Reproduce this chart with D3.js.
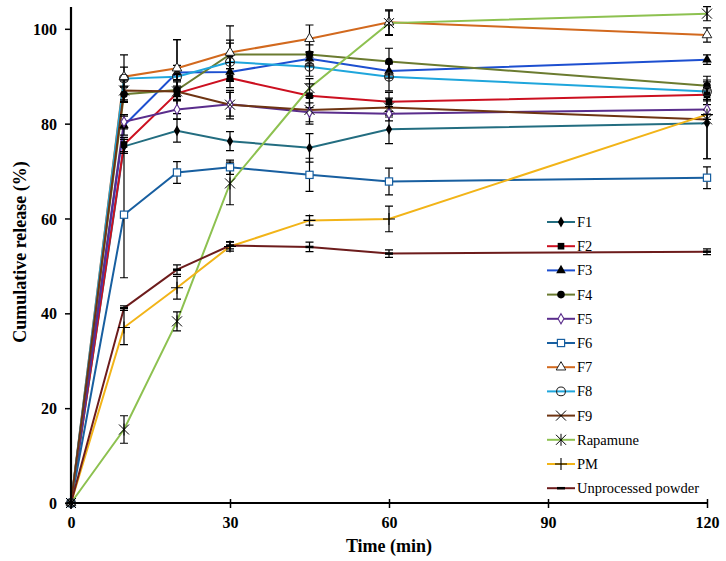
<!DOCTYPE html>
<html><head><meta charset="utf-8">
<script src="https://cdn.jsdelivr.net/npm/d3@7"></script>
<style>body{margin:0;background:#fff}svg{display:block}text{font-family:"Liberation Serif","Times New Roman",Times,"DejaVu Serif",serif}</style>
</head><body>
<svg id="c" width="726" height="561"></svg>
<script>
const times = [0, 10, 20, 30, 45, 60, 120];
const seriesNames = ["F1","F2","F3","F4","F5","F6","F7","F8","F9","Rapamune","PM","Unprocessed powder"];
const F1 = [0, 75.2, 78.5, 76.3, 74.9, 78.8, 80.1];
const F2 = [0, 75.6, 86.4, 89.6, 85.9, 84.6, 86.1];
const F3 = [0, 79.6, 90.8, 90.9, 93.7, 91.1, 93.5];
const F4 = [0, 86.2, 87.1, 94.6, 94.6, 93.1, 88.0];
const F5 = [0, 80.4, 83.0, 84.1, 82.4, 82.1, 83.0];
const F6 = [0, 60.8, 69.7, 70.8, 69.2, 67.8, 68.6];
const F7 = [0, 89.9, 91.7, 95.0, 97.9, 101.4, 98.7];
const F8 = [0, 89.5, 89.9, 93.0, 92.0, 89.9, 86.8];
const F9 = [0, 87.0, 86.8, 84.0, 82.9, 83.4, 80.9];
const Rapamune = [0, 15.5, 38.3, 67.4, 87.5, 101.2, 103.2];
const PM = [0, 37.0, 45.4, 54.1, 59.6, 59.9, 81.9];
const Unprocessed = [0, 41.1, 49.2, 54.3, 54.0, 52.6, 53.0];
const sdF1 = [0, 1.5, 2.4, 2.0, 3.0, 3.0, 7.5];
const sdF2 = [0, 1.5, 1.5, 2.0, 2.5, 2.0, 1.0];
const sdF3 = [0, 2.0, 1.5, 2.0, 1.5, 1.5, 1.0];
const sdF4 = [0, 1.5, 2.0, 3.0, 2.0, 2.8, 2.0];
const sdF5 = [0, 1.5, 2.0, 2.5, 2.0, 1.5, 1.0];
const sdF6 = [0, 13.3, 2.3, 1.5, 3.5, 2.8, 2.3];
const sdF7 = [0, 2.0, 6.0, 5.6, 2.9, 2.6, 1.5];
const sdF8 = [0, 5.0, 7.8, 4.0, 2.0, 3.0, 2.0];
const sdF9 = [0, 2.0, 2.0, 3.0, 3.0, 2.0, 8.3];
const sdRapamune = [0, 2.9, 2.0, 4.5, 2.0, 2.6, 1.5];
const sdPM = [0, 3.6, 2.4, 1.0, 1.0, 2.7, 1.0];
const sdUnprocessed = [0, 0.5, 1.0, 0.7, 1.0, 0.8, 0.6];
const xTicks = [0, 30, 60, 90, 120];
const yTicks = [0, 20, 40, 60, 80, 100];

const values = [F1,F2,F3,F4,F5,F6,F7,F8,F9,Rapamune,PM,Unprocessed];
const sds = [sdF1,sdF2,sdF3,sdF4,sdF5,sdF6,sdF7,sdF8,sdF9,sdRapamune,sdPM,sdUnprocessed];
const colors = ["#236d80","#cc1020","#1d4fd0","#6b7b30","#5a2d8c","#185fa0","#d2691e","#1fa6dc","#6e3412","#8dc150","#f2b418","#6d1c1c"];
const markers = ["diamond","square","triangle","circle","odiamond","osquare","otriangle","ocircle","x","asterisk","plus","dash"];

const svg = d3.select("#c");
const x = d3.scaleLinear().domain([0,120]).range([71,707]);
const y = d3.scaleLinear().domain([0,104.6]).range([503,7]);

function drawMarker(g, type, cx, cy, color) {
  const sym = (t, size) => d3.symbol().type(t).size(size)();
  if (type === "diamond") g.append("path").attr("d", sym(d3.symbolDiamond, 34)).attr("transform",`translate(${cx},${cy})`).attr("fill","#000");
  else if (type === "square") g.append("path").attr("d", sym(d3.symbolSquare, 44)).attr("transform",`translate(${cx},${cy})`).attr("fill","#000");
  else if (type === "triangle") g.append("path").attr("d", sym(d3.symbolTriangle, 40)).attr("transform",`translate(${cx},${cy})`).attr("fill","#000");
  else if (type === "circle") g.append("circle").attr("cx",cx).attr("cy",cy).attr("r",3.8).attr("fill","#000");
  else if (type === "odiamond") g.append("path").attr("d", sym(d3.symbolDiamond, 30)).attr("transform",`translate(${cx},${cy})`).attr("fill","#fff").attr("stroke",color).attr("stroke-width",1.1);
  else if (type === "osquare") g.append("rect").attr("x",cx-3.6).attr("y",cy-3.6).attr("width",7.2).attr("height",7.2).attr("fill","#fff").attr("stroke",color).attr("stroke-width",1.2);
  else if (type === "otriangle") g.append("path").attr("d", sym(d3.symbolTriangle, 40)).attr("transform",`translate(${cx},${cy})`).attr("fill","#fff").attr("stroke","#222").attr("stroke-width",1);
  else if (type === "ocircle") g.append("circle").attr("cx",cx).attr("cy",cy).attr("r",4.4).attr("fill","none").attr("stroke","#222").attr("stroke-width",1.1);
  else if (type === "x") g.append("path").attr("d",`M${cx-5},${cy-5}L${cx+5},${cy+5}M${cx-5},${cy+5}L${cx+5},${cy-5}`).attr("stroke","#000").attr("stroke-width",1);
  else if (type === "asterisk") g.append("path").attr("d",`M${cx-5},${cy-5}L${cx+5},${cy+5}M${cx-5},${cy+5}L${cx+5},${cy-5}M${cx},${cy-6}L${cx},${cy+6}`).attr("stroke","#000").attr("stroke-width",1);
  else if (type === "plus") g.append("path").attr("d",`M${cx-6},${cy}L${cx+6},${cy}M${cx},${cy-6}L${cx},${cy+6}`).attr("stroke","#000").attr("stroke-width",1.1);
  else if (type === "dash") g.append("path").attr("d",`M${cx-4},${cy}L${cx+4},${cy}`).attr("stroke","#000").attr("stroke-width",2.5);
}

const line = d3.line().x((d,i)=>x(times[i])).y(d=>y(d));
values.forEach((vals, k) => {
  svg.append("path").datum(vals).attr("d", line).attr("fill","none").attr("stroke", colors[k]).attr("stroke-width",2);
});
values.forEach((vals, k) => {
  const g = svg.append("g");
  vals.forEach((v,i) => {
    const sd = sds[k][i];
    if (sd > 0) {
      const cx = x(times[i]);
      g.append("path").attr("d",`M${cx},${y(v-sd)}L${cx},${y(v+sd)}M${cx-4},${y(v-sd)}L${cx+4},${y(v-sd)}M${cx-4},${y(v+sd)}L${cx+4},${y(v+sd)}`)
        .attr("stroke","#000").attr("stroke-width",1.2).attr("fill","none");
    }
  });
});
values.forEach((vals, k) => {
  const g = svg.append("g");
  vals.forEach((v,i) => drawMarker(g, markers[k], x(times[i]), y(v), colors[k]));
});

const xAxis = svg.append("g").attr("transform","translate(0,503)")
  .call(d3.axisBottom(x).tickValues(xTicks).tickSize(5).tickSizeOuter(0).tickFormat(d3.format("d")));
xAxis.attr("font-family",null).attr("font-size",null);
xAxis.select(".domain").attr("d","M71,0H707").attr("stroke","#000").attr("stroke-width",2.2);
xAxis.selectAll(".tick line").attr("y1",-4).attr("y2",5).attr("stroke","#000").attr("stroke-width",1.5);
xAxis.selectAll(".tick text").attr("dy",0).attr("y",25).attr("font-weight","bold").attr("font-size",16).attr("fill","#000");

const yAxis = svg.append("g").attr("transform","translate(71,0)")
  .call(d3.axisLeft(y).tickValues(yTicks).tickSize(6).tickSizeOuter(0).tickFormat(d3.format("d")));
yAxis.attr("font-family",null).attr("font-size",null);
yAxis.select(".domain").attr("d","M0,7V503").attr("stroke","#000").attr("stroke-width",2.2);
yAxis.selectAll(".tick line").attr("stroke","#000").attr("stroke-width",1.5);
yAxis.selectAll(".tick text").attr("x",-14).attr("dy","0.35em").attr("font-weight","bold").attr("font-size",16).attr("fill","#000");

svg.append("text").attr("x",389).attr("y",552).attr("text-anchor","middle")
  .attr("font-weight","bold").attr("font-size",18).text("Time (min)");
svg.append("text").attr("transform","translate(26,252) rotate(-90)").attr("text-anchor","middle")
  .attr("font-weight","bold").attr("font-size",18).text("Cumulative release (%)");

const lg = svg.append("g");
seriesNames.forEach((name,k) => {
  const ly = 222 + k*24.2;
  lg.append("line").attr("x1",547).attr("x2",575).attr("y1",ly).attr("y2",ly).attr("stroke",colors[k]).attr("stroke-width",2);
  drawMarker(lg, markers[k], 561, ly, colors[k]);
  lg.append("text").attr("x",577).attr("y",ly).attr("dy","0.35em").attr("font-size",14.5).attr("fill","#000").text(name);
});
</script>
</body></html>
